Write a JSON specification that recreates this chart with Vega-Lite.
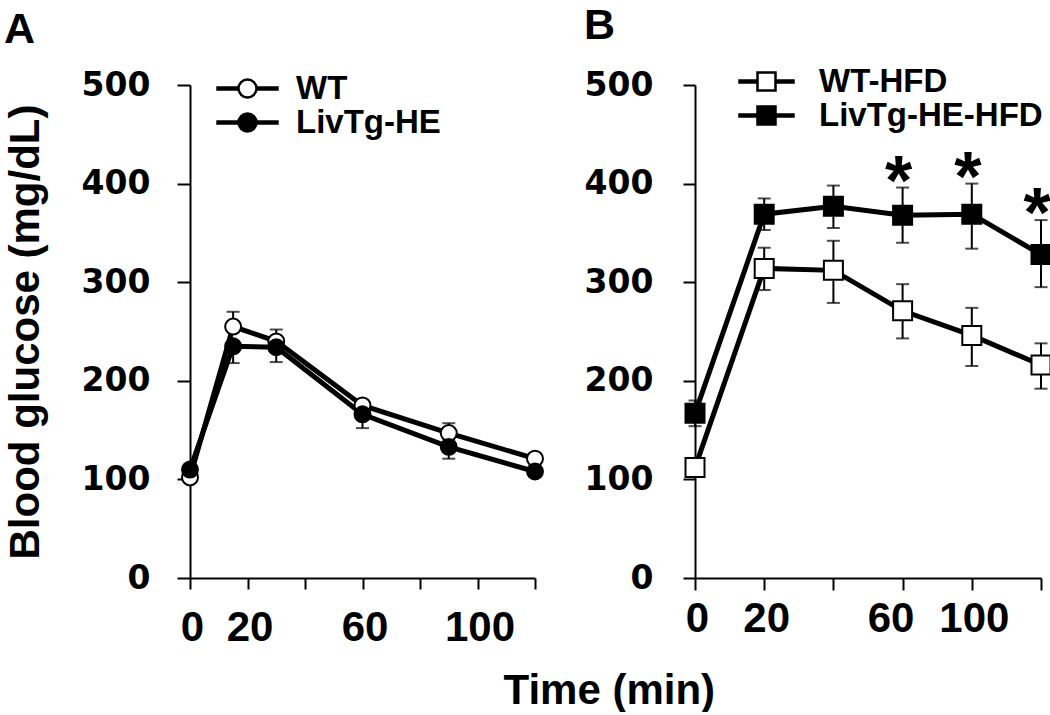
{
  "$schema": "https://vega.github.io/schema/vega-lite/v6.json",
  "background": "white",
  "padding": {"left": 4, "top": 5, "right": 0, "bottom": 0},
  "spacing": 37,
  "config": {
    "font": "Liberation Sans",
    "view": {"stroke": null},
    "axis": {"grid": false, "domainColor": "black", "tickColor": "black", "labelColor": "black", "titleColor": "black", "domainWidth": 2, "tickWidth": 2, "labelFlush": false, "labelOverlap": false},
    "legend": {"orient": "none", "padding": 0, "labelFont": "Liberation Sans", "labelFontWeight": "bold", "labelFontSize": 33, "labelColor": "black", "labelLimit": 400, "symbolStrokeColor": "black", "symbolStrokeWidth": 2.5, "symbolSize": 324, "title": null}
  },
  "datasets": {
    "a": [
      {"t": 0, "group": "WT", "mean": 102, "lo": 102, "hi": 106},
      {"t": 15, "group": "WT", "mean": 255, "lo": 255, "hi": 270},
      {"t": 30, "group": "WT", "mean": 240, "lo": 240, "hi": 252},
      {"t": 60, "group": "WT", "mean": 175, "lo": 175, "hi": 180},
      {"t": 90, "group": "WT", "mean": 147, "lo": 147, "hi": 157},
      {"t": 120, "group": "WT", "mean": 121, "lo": 121, "hi": 125},
      {"t": 0, "group": "LivTg-HE", "mean": 110, "lo": 104, "hi": 110},
      {"t": 15, "group": "LivTg-HE", "mean": 235, "lo": 218, "hi": 235},
      {"t": 30, "group": "LivTg-HE", "mean": 234, "lo": 219, "hi": 234},
      {"t": 60, "group": "LivTg-HE", "mean": 166, "lo": 152, "hi": 166},
      {"t": 90, "group": "LivTg-HE", "mean": 133, "lo": 121, "hi": 133},
      {"t": 120, "group": "LivTg-HE", "mean": 108, "lo": 103, "hi": 108}
    ],
    "b": [
      {"t": 0, "group": "WT-HFD", "mean": 112, "lo": 106, "hi": 118, "sig": ""},
      {"t": 15, "group": "WT-HFD", "mean": 314, "lo": 292, "hi": 335, "sig": ""},
      {"t": 30, "group": "WT-HFD", "mean": 312, "lo": 279, "hi": 342, "sig": ""},
      {"t": 60, "group": "WT-HFD", "mean": 271, "lo": 243, "hi": 298, "sig": ""},
      {"t": 90, "group": "WT-HFD", "mean": 246, "lo": 215, "hi": 274, "sig": ""},
      {"t": 120, "group": "WT-HFD", "mean": 216, "lo": 192, "hi": 238, "sig": ""},
      {"t": 0, "group": "LivTg-HE-HFD", "mean": 167, "lo": 154, "hi": 180, "sig": ""},
      {"t": 15, "group": "LivTg-HE-HFD", "mean": 369, "lo": 353, "hi": 385, "sig": ""},
      {"t": 30, "group": "LivTg-HE-HFD", "mean": 377, "lo": 355, "hi": 398, "sig": ""},
      {"t": 60, "group": "LivTg-HE-HFD", "mean": 368, "lo": 340, "hi": 396, "sig": "*"},
      {"t": 90, "group": "LivTg-HE-HFD", "mean": 369, "lo": 334, "hi": 400, "sig": "*"},
      {"t": 120, "group": "LivTg-HE-HFD", "mean": 328, "lo": 295, "hi": 363, "sig": "*"}
    ]
  },
  "title": {"text": "Time (min)", "orient": "bottom", "anchor": "middle", "font": "Liberation Sans", "fontWeight": "bold", "fontSize": 42, "color": "black", "offset": 23, "dx": 80},
  "resolve": {"scale": {"x": "independent", "y": "independent", "fill": "independent"}, "legend": {"fill": "independent"}},
  "hconcat": [
    {
      "title": {"text": "A", "anchor": "start", "frame": "bounds", "font": "Liberation Sans", "fontWeight": "bold", "fontSize": 43, "color": "black", "offset": 17},
      "width": 345,
      "height": 493,
      "data": {"name": "a"},
      "encoding": {
        "x": {"field": "t", "type": "quantitative", "title": null, "scale": {"domain": [0, 120], "nice": false, "zero": false},
          "axis": {"values": [0, 20, 40, 60, 80, 100, 120], "labelExpr": "datum.value == 40 || datum.value == 80 || datum.value == 120 ? '' : datum.label", "tickSize": 11, "labelPadding": 18, "labelOffset": 2, "labelFont": "Liberation Sans", "labelFontWeight": "bold", "labelFontSize": 42}}
      },
      "layer": [
        {
          "mark": {"type": "rule", "color": "black", "strokeWidth": 2},
          "encoding": {
            "y": {"field": "lo", "type": "quantitative", "title": "Blood glucose (mg/dL)", "scale": {"domain": [0, 500], "nice": false},
              "axis": {"values": [0, 100, 200, 300, 400, 500], "tickSize": 13, "labelPadding": 27, "labelFont": "DejaVu Sans", "labelFontWeight": "bold", "labelFontSize": 33, "titleFont": "Liberation Sans", "titleFontWeight": "bold", "titleFontSize": 42, "titlePadding": 34}},
            "y2": {"field": "hi"}
          }
        },
        {
          "mark": {"type": "tick", "color": "black", "orient": "horizontal", "size": 13, "thickness": 2},
          "encoding": {"y": {"field": "hi", "type": "quantitative", "title": "Blood glucose (mg/dL)"}}
        },
        {
          "mark": {"type": "tick", "color": "black", "orient": "horizontal", "size": 13, "thickness": 2},
          "encoding": {"y": {"field": "lo", "type": "quantitative", "title": "Blood glucose (mg/dL)"}}
        },
        {
          "mark": {"type": "line", "color": "black", "strokeWidth": 5},
          "encoding": {"y": {"field": "mean", "type": "quantitative", "title": "Blood glucose (mg/dL)"}, "detail": {"field": "group"}}
        },
        {
          "mark": {"type": "point", "shape": "circle", "size": 254, "stroke": "black", "strokeWidth": 2, "filled": true, "opacity": 1},
          "encoding": {
            "y": {"field": "mean", "type": "quantitative", "title": "Blood glucose (mg/dL)"},
            "fill": {"field": "group", "type": "nominal", "scale": {"domain": ["WT", "LivTg-HE"], "range": ["white", "black"]},
              "legend": {"legendX": 41, "legendY": -13, "rowPadding": -2, "labelOffset": 32, "symbolType": "M-3.33,-0.12H-1V0.12H-3.33Z M1,-0.12H3.33V0.12H1Z M1,0A1,1,0,1,1,-1,0A1,1,0,1,1,1,0Z"}}
          }
        }
      ]
    },
    {
      "title": {"text": "B", "anchor": "start", "frame": "bounds", "font": "Liberation Sans", "fontWeight": "bold", "fontSize": 43, "color": "black", "offset": 17},
      "width": 346,
      "height": 493,
      "data": {"name": "b"},
      "encoding": {
        "x": {"field": "t", "type": "ordinal", "title": null, "scale": {"type": "point", "padding": 0, "domain": [0, 15, 30, 60, 90, 120]},
          "axis": {"labelAngle": 0, "labelExpr": "datum.value == 15 ? '20' : datum.value == 90 ? '100' : (datum.value == 30 || datum.value == 120) ? '' : datum.label", "tickSize": 12, "labelPadding": 8, "labelOffset": {"condition": {"test": "datum.value == 60", "value": -12}, "value": 2}, "labelFont": "Liberation Sans", "labelFontWeight": "bold", "labelFontSize": 42}}
      },
      "layer": [
        {
          "mark": {"type": "rule", "color": "black", "strokeWidth": 2},
          "encoding": {
            "y": {"field": "lo", "type": "quantitative", "title": null, "scale": {"domain": [0, 500], "nice": false},
              "axis": {"values": [0, 100, 200, 300, 400, 500], "tickSize": 12, "labelPadding": 30, "labelFont": "DejaVu Sans", "labelFontWeight": "bold", "labelFontSize": 33}},
            "y2": {"field": "hi"}
          }
        },
        {
          "mark": {"type": "tick", "color": "black", "orient": "horizontal", "size": 13, "thickness": 2},
          "encoding": {"y": {"field": "hi", "type": "quantitative", "title": null}}
        },
        {
          "mark": {"type": "tick", "color": "black", "orient": "horizontal", "size": 13, "thickness": 2},
          "encoding": {"y": {"field": "lo", "type": "quantitative", "title": null}}
        },
        {
          "mark": {"type": "line", "color": "black", "strokeWidth": 5},
          "encoding": {"y": {"field": "mean", "type": "quantitative", "title": null}, "detail": {"field": "group"}}
        },
        {
          "mark": {"type": "point", "shape": "square", "size": 361, "stroke": "black", "strokeWidth": 2, "filled": true, "opacity": 1},
          "encoding": {
            "y": {"field": "mean", "type": "quantitative", "title": null},
            "fill": {"field": "group", "type": "nominal", "scale": {"domain": ["WT-HFD", "LivTg-HE-HFD"], "range": ["white", "black"]},
              "legend": {"legendX": 55, "legendY": -20, "rowPadding": -5, "labelOffset": 36, "symbolType": "M-3,-0.12H-1V0.12H-3Z M1,-0.12H3V0.12H1Z M-1,-1H1V1H-1Z"}}
          }
        },
        {
          "transform": [{"filter": "datum.sig == '*'"}],
          "mark": {"type": "text", "font": "Liberation Sans", "fontWeight": "bold", "fontSize": 70, "baseline": "alphabetic", "dy": 17, "dx": -4, "color": "black"},
          "encoding": {"y": {"field": "hi", "type": "quantitative", "title": null}, "text": {"field": "sig"}}
        }
      ]
    }
  ]
}
